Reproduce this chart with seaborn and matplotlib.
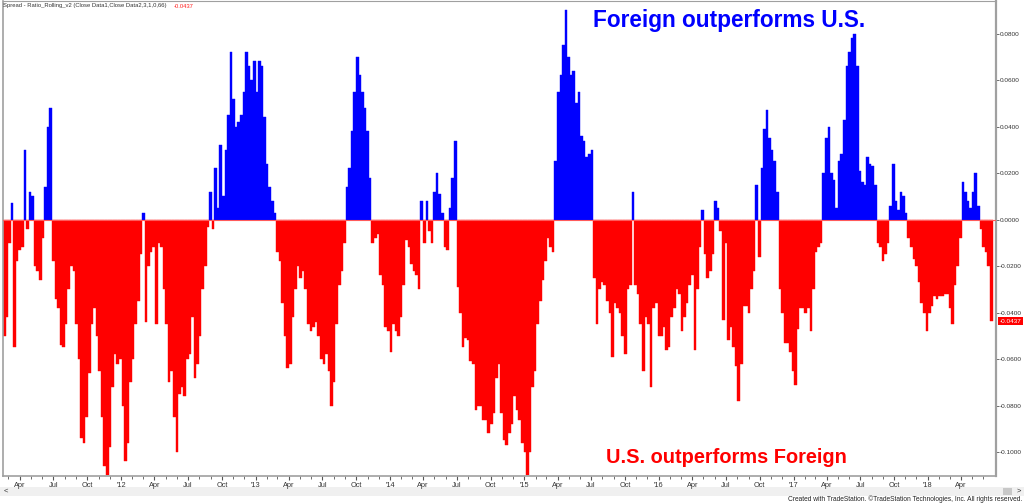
import numpy as np
import pandas as pd
import matplotlib
matplotlib.use('Agg')
import matplotlib.pyplot as plt
import matplotlib.dates as mdates
from matplotlib.patches import Rectangle
import seaborn as sns

# weekly spread (Foreign vs U.S. rolling ratio), in thousandths
start_date = '2011-02-18'
spread_milli = [
    -50, -42, -10, 7, -55, -18, -13, -12, 30, -4,
    12, 10, -20, -22, -26, -8, 14, 40, 48, -18,
    -34, -38, -54, -55, -45, -30, -20, -22, -45, -60,
    -94, -96, -85, -66, -45, -38, -50, -65, -85, -106,
    -110, -98, -72, -58, -62, -60, -80, -104, -96, -70,
    -60, -45, -35, -15, 3, -44, -20, -14, -12, -45,
    -10, -12, -30, -45, -70,
    -65, -85, -100, -75, -72, -76, -60, -58, -42, -68,
    -62, -50, -30, -20, -3, 12, -4, 22, 5, 32,
    10, 30, 45, 72, 52, 40, 42, 45, 55, 72,
    66, 60, 68, 55, 68, 66, 44, 24, 14, 8,
    3, -14, -18, -36, -50, -64, -62, -42, -30, -20,
    -25, -22, -30, -45, -48, -46, -44, -50, -60, -62,
    -58, -65, -80, -70,
    -45, -28, -22, -10, 14, 22, 38, 55, 70, 62,
    55, 48, 38, 18, -10, -8, -6, -24, -28, -46,
    -48, -57, -45, -48, -50, -42, -28, -9, -12, -19,
    -22, -24, -30, 8, -10, 8, -5, -10, 12, 20,
    11, 3, -12, -13, 5, 18, 34, -29, -40, -55,
    -51, -52, -61, -62, -82, -80, -80, -86, -86, -92,
    -88, -83, -68, -62,
    -83, -95, -97, -92, -88, -76, -82, -86, -96, -100,
    -110, -100, -72, -65, -45, -35, -26, -18, -8, -12,
    -14, 25, 55, 62, 75, 90, 70, 62, 64, 50,
    55, 36, 34, 27, 28, 30, -25, -45, -30, -27,
    -28, -35, -40, -59, -36, -38, -40, -50, -58, -30,
    -28, 12, -28, -32, -45, -65, -42, -45, -72, -38,
    -36, -50, -50, -46,
    -56, -55, -42, -38, -30, -32, -48, -42, -36, -28,
    -24, -56, -30, -12, 4, -15, -25, -22, -15, 8,
    5, -5, -43, -10, -52, -46, -55, -63, -78, -62,
    -37, -37, -40, -30, -22, 15, -16, 22, 39, 47,
    35, 30, 25, 12, -30, -40, -53, -53, -57, -65,
    -71, -47, -38, -38, -40, -38, -48, -30, -14, -12,
    -10, 20, 35, 40,
    20, 17, 5, 25, 28, 43, 66, 72, 78, 80,
    66, 21, 16, 15, 27, 24, 23, 15, -10, -12,
    -18, -15, -10, 6, 24, 8, 4, 12, 10, 3,
    -8, -12, -17, -20, -27, -36, -40, -48, -40, -37,
    -33, -34, -33, -33, -32, -32, -38, -45, -28, -20,
    -8, 16, 12, 8, 5, 12, 20, 6, -4, -12,
    -14, -20, -43.7,
]
y_ticks = [0.08, 0.06, 0.04, 0.02, 0.0, -0.02, -0.04, -0.06, -0.08, -0.10]
last_value = -0.0437
top_label = 'Foreign outperforms U.S.'
bottom_label = 'U.S. outperforms Foreign'
header = 'Spread - Ratio_Rolling_v2 (Close Data1,Close Data2,3,1,0,66)'

dates = pd.date_range(start_date, periods=len(spread_milli), freq='7D')
df = pd.DataFrame({'date': mdates.date2num(dates),
                   'spread': np.array(spread_milli) / 1000.0})
df['side'] = np.where(df['spread'] >= 0, 'foreign', 'us')

sns.set_style('white')
plt.rcParams['font.family'] = ['Liberation Sans', 'DejaVu Sans']

W, H = 1024, 503
fig = plt.figure(figsize=(W / 100, H / 100), dpi=100)
ax = fig.add_axes([3 / W, 1 - 476 / H, 993 / W, 475 / H])
ax.set_zorder(2)

sns.barplot(data=df, x='date', y='spread', hue='side',
            palette={'foreign': '#0000ff', 'us': '#ff0000'},
            native_scale=True, width=1.0, dodge=False, saturation=1,
            errorbar=None, legend=False, ax=ax)
for p in ax.patches:
    p.set_edgecolor(p.get_facecolor())
    p.set_linewidth(0.3)

ax.axhline(0, color='#ff5a5a', lw=0.8, zorder=3)

d0 = df['date'].iloc[0]
ax.set_xlim(d0 - 3.5, df['date'].iloc[-1] + 13)
ax.set_ylim(-0.1103, 0.094)

# x axis: quarterly labels, monthly minor ticks
qs = pd.date_range('2011-04-01', '2018-04-01', freq='QS')
labels = ["'" + d.strftime('%y') if d.month == 1 else d.strftime('%b') for d in qs]
ax.set_xticks(mdates.date2num(qs))
ax.set_xticklabels(labels)
ms = pd.date_range('2011-03-01', '2018-06-01', freq='MS')
ax.set_xticks(mdates.date2num(ms), minor=True)
ax.tick_params(axis='x', which='major', length=3, width=0.8, color='#555555',
               labelsize=5.3, labelcolor='#333333', pad=1, bottom=True)
ax.tick_params(axis='x', which='minor', length=2, width=0.6, color='#555555', bottom=True)

# y axis on the right
ax.yaxis.tick_right()
ax.set_yticks(y_ticks)
ax.set_yticklabels(['{:.4f}'.format(v) for v in y_ticks])
ax.tick_params(axis='y', length=2, width=0.6, color='#555555', labelsize=4.6,
               labelcolor='#333333', pad=0.5, right=True)
ax.set_xlabel('')
ax.set_ylabel('')

for side in ['left', 'top', 'bottom', 'right']:
    ax.spines[side].set_visible(True)
    ax.spines[side].set_color('#a0a0a0')
ax.spines['right'].set_linewidth(1.6)
ax.spines['bottom'].set_linewidth(1.2)
ax.spines['left'].set_linewidth(1.2)
ax.spines['top'].set_linewidth(0.8)

# annotations
ax.text(0.731, 0.96, top_label, transform=ax.transAxes, ha='center', va='center',
        color='#0000ff', fontsize=16.3, fontweight='bold')
ax.text(0.729, 0.038, bottom_label, transform=ax.transAxes, ha='center', va='center',
        color='#ff0000', fontsize=14.4, fontweight='bold')

# study header with the last value next to it
head = fig.text(3 / W, 1 - 6 / H, header, ha='left', va='center', fontsize=4.2,
                color='#333333')
ax.annotate('{:.4f}'.format(last_value), xy=(1, 0.5), xycoords=head,
            xytext=(5, 0), textcoords='offset points', ha='left', va='center',
            fontsize=4.2, color='#ff2020', annotation_clip=False)

# last value marker on the price axis
ax.annotate('{:.4f}'.format(last_value), xy=(1.0, last_value),
            xycoords=('axes fraction', 'data'), xytext=(2.5, 0), textcoords='offset points',
            ha='left', va='center', fontsize=4.6, color='white',
            bbox=dict(boxstyle='square,pad=0.2', fc='#ff0000', ec='none'),
            annotation_clip=False)

# scroll bar and footer
fig.patches.append(Rectangle((0, 1 - 496 / H), 1, 9 / H, transform=fig.transFigure,
                             fc='#f0f0f0', ec='none', zorder=0))
fig.patches.append(Rectangle((1003 / W, 1 - 495 / H), 9 / W, 7 / H,
                             transform=fig.transFigure, fc='#c8c8c8', ec='none', zorder=1))
fig.text(4 / W, 1 - 491.5 / H, '<', fontsize=5.5, va='center', color='#333333')
fig.text(1017 / W, 1 - 491.5 / H, '>', fontsize=5.5, va='center', color='#333333')
fig.text(1022 / W, 1 - 499.5 / H,
         'Created with TradeStation. \u00a9TradeStation Technologies, Inc. All rights reserved.',
         ha='right', va='center', fontsize=4.8, color='#222222')

fig.savefig('out.png', dpi=100)
